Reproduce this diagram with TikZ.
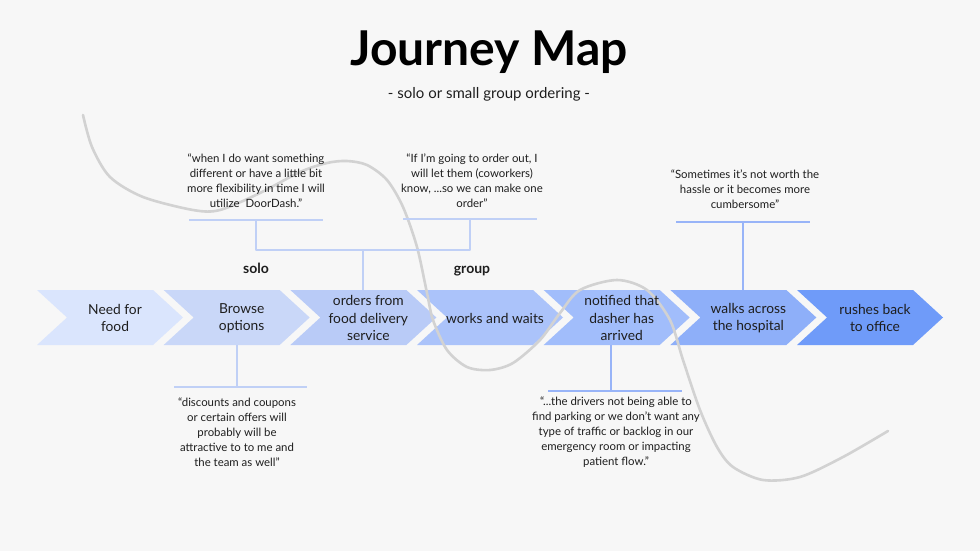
\documentclass[tikz,border=0pt]{standalone}
\usepackage{fontspec}
\setmainfont{Lato}
\usetikzlibrary{positioning}
\definecolor{paper}{HTML}{F7F7F7}
\definecolor{swirl}{HTML}{D2D2D2}
\definecolor{linkpale}{HTML}{C0D0F6}
\definecolor{linkblue}{HTML}{98B4F8}
\definecolor{ink}{HTML}{1E1E1E}
\definecolor{ch1}{HTML}{DAE5FD}
\definecolor{ch2}{HTML}{C9D7F8}
\definecolor{ch3}{HTML}{B9CBF7}
\definecolor{ch4}{HTML}{ABC3FA}
\definecolor{ch5}{HTML}{A1BDFB}
\definecolor{ch6}{HTML}{8EAFF9}
\definecolor{ch7}{HTML}{6F9BF9}
\tikzset{
  stage/.style={align=center, text=ink, font=\fontsize{13.8}{17.5}\selectfont},
  quote/.style={align=center, text=ink, font=\fontsize{11.4}{15}\selectfont},
  kind/.style={anchor=base, text=ink, font=\bfseries\fontsize{14}{16}\selectfont},
  bar/.style={line width=2pt, draw=linkpale},
}
\begin{document}
\begin{tikzpicture}[x=1pt, y=-1pt, line join=round]
  \fill[paper] (0,0) rectangle (980,551);
  \useasboundingbox (0,0) rectangle (980,551);
  % title
  \node[anchor=base, text=black, font=\bfseries\fontsize{48}{52}\selectfont] (title) at (489,66) {Journey Map};
  \node[anchor=base, text=ink, font=\fontsize{15}{17}\selectfont] (subtitle) at (489,98) {- solo or small group ordering -};
  % chevrons
  \foreach \k in {1,...,7}{
    \pgfmathsetmacro\lft{37+126.67*(\k-1)}
    \fill[ch\k] (\lft,290) -- ++(116,0) -- ++(30,27.5) -- ++(-30,27.5) -- ++(-116,0) -- ++(30,-27.5) -- cycle;
  }
  % background swirl
  \draw[swirl, line width=2.6pt, line cap=round] plot[smooth, tension=0.5] coordinates {
    (83,115) (92,147) (110,177) (143,197) (193,210) (220,210) (260,193) (300,172) (327,163)
    (347,161) (367,165) (387,180) (403,207) (417,247) (427,293) (433,320) (447,350) (467,367)
    (490,370) (513,363) (540,340) (560,313) (580,290) (617,280) (647,290) (670,320) (683,360)
    (700,410) (717,447) (733,467) (763,480) (800,477) (843,457) (888,431)};
  \foreach \txt [count=\k] in {Need for\\food, Browse\\options, orders from\\food delivery\\service,
      works and waits, notified that\\dasher has\\arrived, walks across\\the hospital, rushes back\\to office}{
    \pgfmathsetmacro\lft{37+126.67*(\k-1)}
    \node[stage] (s\k) at (\lft+78,318) {\txt};
  }
  % quotes
  \node[quote] (q1) at (256,181) {“when I do want something\\different or have a little bit\\more flexibility in time I will\\utilize\ \ DoorDash.”};
  \node[quote] (q2) at (472,181) {“If I'm going to order out, I\\will let them (coworkers)\\know, ...so we can make one\\order”};
  \node[quote] (q3) at (745,189) {“Sometimes it's not worth the\\hassle or it becomes more\\cumbersome”};
  \node[quote] (q4) at (237,432) {“discounts and coupons\\or certain offers will\\probably will be\\attractive to to me and\\the team as well”};
  \node[quote] (q5) at (616,432) {“...the drivers not being able to\\find parking or we don't want any\\type of traffic or backlog in our\\emergency room or impacting\\patient flow.”};
  \node[kind] (solo) at (256,273) {solo};
  \node[kind] (group) at (472,273) {group};
  % brackets
  \coordinate (f1) at (256,220);
  \coordinate (f2) at (470,219);
  \coordinate (fork) at (363,250);
  \coordinate (t3) at (743,222);
  \coordinate (b2) at (237,387);
  \coordinate (b5) at (611,391);
  \draw[bar] (189,220) -- (323,220);
  \draw[bar] (403,219) -- (537,219);
  \draw[bar] (f1) -- (f1 |- fork) -- (f2 |- fork) -- (f2);
  \draw[bar] (fork) -- (fork |- 0,290);
  \draw[bar, draw=linkblue] (676,222) -- (810,222);
  \draw[bar, draw=linkblue] (t3) -- (t3 |- 0,290);
  \draw[bar] (174,387) -- (307,387);
  \draw[bar] (b2) -- (b2 |- 0,345);
  \draw[bar, draw=linkblue] (548,391) -- (682,391);
  \draw[bar, draw=linkblue] (b5) -- (b5 |- 0,345);
\end{tikzpicture}
\end{document}
